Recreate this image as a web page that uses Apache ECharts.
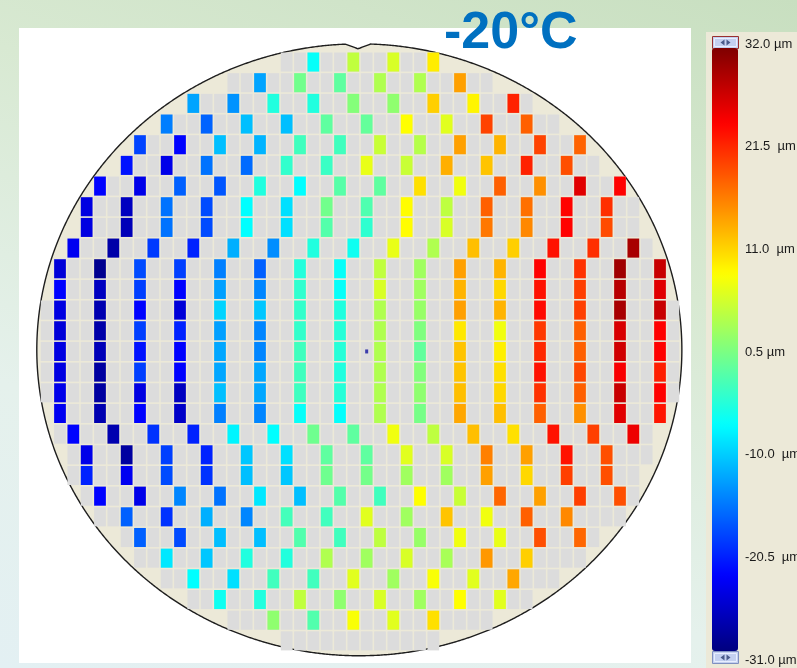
<!DOCTYPE html>
<html><head><meta charset="utf-8">
<script src="https://cdn.jsdelivr.net/npm/echarts@6/dist/echarts.min.js"></script>
<style>
html,body{margin:0;padding:0;width:797px;height:668px;overflow:hidden;}
body{background:linear-gradient(200deg,#C8DFC0 0%,#D8E9D2 35%,#E5F1EC 70%,#E3F0F3 100%);position:relative;}
#panel{position:absolute;left:19px;top:28px;width:672px;height:635px;background:#FFFFFF;}
#legendPanel{position:absolute;left:706px;top:32px;width:91px;height:636px;background:#ECE9D8;}
#chart{position:absolute;left:0;top:0;width:797px;height:668px;}
</style></head><body>
<div id="panel"></div><div id="legendPanel"></div>
<div id="chart"></div>
<script>
// ---------------- data ----------------
// wafer extent: first / last die column of each row (rows 0..28, top to bottom)
const rowStartCol = [18,14,11,9,7,6,4,3,3,2,1,1,0,0,0,0,0,1,1,2,2,3,4,6,7,9,11,14,18];
const rowEndCol   = [29,33,36,38,40,41,43,44,44,45,46,46,47,47,47,47,47,46,45,45,44,44,43,41,40,38,36,33,29];
// first measured column of each row; measured dies repeat every 3 columns
const measuredStartCol = [20,16,11,9,7,6,4,3,3,2,1,1,1,1,1,1,1,1,2,3,3,4,6,7,9,11,13,17,null];
const MEASURED_STEP = 3;
// measured values (µm) per row
const row00 = [-7, 4.5, 6, 9.5];
const row01 = [-13, -0.3, -1.5, 3.5, 3.5, 14.2];
const row02 = [-13, -14, -5.4, -5.4, 0.8, 1.5, 11.3, 9, 22];
const row03 = [-15.3, -17, -11.3, -11.3, -1.5, -1.2, 8.4, 6.5, 20, 18.2];
const row04 = [-19, -23, -11.3, -12, -3.4, -3.4, 5, 3.8, 14.2, 13, 20, 18];
const row05 = [-22, -24.5, -16, -16.5, -4.3, -3.8, 7, 5, 13.3, 12, 22, 19.2];
const row06 = [-23, -24.5, -17.2, -17.8, -5.4, -7.4, -2, -1.5, 10.3, 7.5, 18.2, 15.2, 26, 24];
const row07 = [-25, -27, -16, -18.5, -7.4, -9.3, -0.3, -2.5, 8.5, 4.4, 18.2, 17.2, 24, 21.2];
const row08 = [-25, -27.5, -16, -18.5, -7.4, -9.3, -2.2, -4.5, 8.5, 6, 16.7, 15.7, 24, 19.5];
const row09 = [-24, -28.5, -19.5, -21, -12.3, -14.3, -5.4, -6.5, 7, 3.5, 12.3, 11.3, 23, 21.2, 29.5];
const row10 = [-25.5, -30, -18.5, -19.2, -15.2, -17.2, -5.2, -7, 4.5, 2.5, 14.2, 13, 24, 21, 30, 27.5];
const row11 = [-23, -27, -19.2, -23, -13.2, -14.8, -4.4, -7, 6, 2.5, 13, 10.8, 23, 20.2, 28.5, 26];
const row12 = [-25, -28, -23, -25.5, -10, -10.8, -4.2, -5.4, 3.5, 2, 14.2, 13, 23.5, 20.2, 29.5, 27.5];
const row13 = [-25.5, -28.5, -19.2, -21, -13.2, -14.8, -4.2, -5, 3.5, 0.5, 9.8, 7.5, 20.6, 18.2, 26.5, 24];
const row14 = [-25, -27.5, -22, -23, -12.8, -14.8, -3.4, -5, 3.5, -1.3, 12, 9.3, 21.6, 18.2, 27, 24];
const row15 = [-25, -29, -19.2, -23, -12.8, -12.8, -3.4, -5.4, 3.5, 0.7, 12, 10.3, 23, 19.7, 24.5, 22.2];
const row16 = [-24.5, -29, -25, -27, -11.3, -12.8, -3.5, -5, 3.5, 1.5, 12.3, 10.8, 21, 18.2, 27.5, 24];
const row17 = [-24, -28, -23, -26.5, -15.2, -14.8, -7, -7.2, 3.5, 0, 13.8, 12.3, 18.2, 15.2, 26, 22.8];
const row18 = [-23, -28, -20, -21, -8, -7.4, -0.5, -1.5, 7.5, 4.4, 12.3, 10.3, 23, 20.2, 25.2];
const row19 = [-24.5, -29, -19.2, -21, -10.8, -9.3, -1.5, -1.5, 6.5, 6, 16.2, 14.2, 23, 19.2];
const row20 = [-21, -24, -18.5, -20, -11.3, -10.8, -0.5, -0.2, 2.5, 2.5, 14.2, 10.8, 20.2, 19.2];
const row21 = [-23, -24.5, -14.8, -16, -8.8, -11.3, -2.2, -3.4, 8.4, 5, 17.8, 14.2, 20.2, 19.2];
const row22 = [-17.2, -20, -12.3, -14.8, -3.2, -3.4, 6.5, 2.5, 12, 7.5, 18.2, 15.7];
const row23 = [-17.2, -18.5, -11.3, -11.3, -2.3, -3.4, 4.4, 2, 7.5, 7, 19.2, 17.8];
const row24 = [-8.8, -10.8, -5.4, -5.3, 3.5, 2.5, 6, 3, 14.7, 11.3];
const row25 = [-7.4, -9.3, -3.4, -3.4, 6.5, 2.5, 8, 6.5, 13.8];
const row26 = [-6.5, -5.4, 4.5, 1.5, 6, 2.5, 8.4, 6.5];
const row27 = [1.5, -2.3, 8, 6.5, 10.3];
const row28 = [];
const measuredRows = [row00,row01,row02,row03,row04,row05,row06,row07,row08,row09,row10,row11,row12,row13,row14,
  row15,row16,row17,row18,row19,row20,row21,row22,row23,row24,row25,row26,row27,row28];
const centerMark = [[24, 14]];
const scaleMin = -31, scaleMax = 32;
const legendTickLabels = ['32.0 µm','21.5  µm','11.0  µm','0.5 µm','-10.0  µm','-20.5  µm','-31.0 µm'];
const titleText = '-20°C';

// ---------------- layout / style ----------------
const WAFER = {cx: 23.45, cy: 13.92, rx: 24.19, ry: 14.8, notchX: 23.35, notchHalf: 0.95, notchDepth: 0.24};
const JET = ['#00007F','#0000FF','#007FFF','#00FFFF','#7FFF7F','#FFFF00','#FF7F00','#FF0000','#7F0000'];

const grayCells = [];
const measuredCells = [];
for (let r = 0; r < rowStartCol.length; r++) {
  for (let c = rowStartCol[r]; c <= rowEndCol[r]; c++) grayCells.push([c, r]);
  const vals = measuredRows[r];
  for (let i = 0; i < vals.length; i++) {
    measuredCells.push([measuredStartCol[r] + i * MEASURED_STEP, r, vals[i]]);
  }
}

function cellRender(fillFn) {
  return function (params, api) {
    const c = api.value(0), r = api.value(1);
    const p0 = api.coord([c - 0.5, r - 0.5]);
    const p1 = api.coord([c + 0.5, r + 0.5]);
    const ins = 0.8;
    return {type: 'rect',
      shape: {x: p0[0] + ins, y: p0[1] + ins, width: p1[0] - p0[0] - 2 * ins, height: p1[1] - p0[1] - 2 * ins},
      style: {fill: fillFn(api)}};
  };
}

function waferRender(params, api) {
  const pts = [];
  const N = 1440;
  for (let i = 0; i < N; i++) {
    const t = i / N * 2 * Math.PI;
    const x = WAFER.cx + WAFER.rx * Math.sin(t);
    let y = WAFER.cy - WAFER.ry * Math.cos(t);
    const dx = Math.abs(x - WAFER.notchX);
    if (y < WAFER.cy && dx < WAFER.notchHalf) y += WAFER.notchDepth * (1 - dx / WAFER.notchHalf);
    pts.push(api.coord([x, y]));
  }
  return {type: 'polygon', shape: {points: pts},
    style: {fill: '#ECE9D8', stroke: '#1E1E1E', lineWidth: 1.4}};
}

function buttonGraphic(top, stroke) {
  return {type: 'group', left: 712, top: top, children: [
    {type: 'rect', shape: {x: 0, y: 0, width: 26, height: 12}, style: {fill: '#C4D0F0', stroke: stroke, lineWidth: 1}},
    {type: 'rect', shape: {x: 2, y: 2, width: 22, height: 8}, style: {fill: '#C4D0F0', stroke: '#E8EEFF', lineWidth: 1}},
    {type: 'polygon', shape: {points: [[8, 6], [12, 3], [12, 9]]}, style: {fill: '#4A5A8A'}},
    {type: 'polygon', shape: {points: [[18, 6], [14, 3], [14, 9]]}, style: {fill: '#4A5A8A'}}
  ]};
}

const chart = echarts.init(document.getElementById('chart'), null, {renderer: 'canvas'});
chart.setOption({
  animation: false,
  backgroundColor: 'transparent',
  title: {text: titleText, left: 439, top: 3,
    textStyle: {fontFamily: 'Liberation Sans', fontWeight: 'bold', fontSize: 52, color: '#0070C0'}},
  grid: [
    {left: 40, top: 51.7, width: 640, height: 599.5, outerBoundsMode: 'none', containLabel: false},
    {left: 712, top: 44, width: 26, height: 616, outerBoundsMode: 'none', containLabel: false}
  ],
  xAxis: [
    {gridIndex: 0, type: 'value', min: -0.5, max: 47.5, show: false},
    {gridIndex: 1, type: 'value', min: 0, max: 1, show: false}
  ],
  yAxis: [
    {gridIndex: 0, type: 'value', min: -0.5, max: 28.5, inverse: true, show: false},
    {gridIndex: 1, type: 'category', data: legendTickLabels, inverse: true, boundaryGap: false, position: 'right',
      axisLine: {show: false}, axisTick: {show: false}, splitLine: {show: false},
      axisLabel: {margin: 7, color: '#1A1A1A', fontFamily: 'Liberation Sans', fontSize: 13, interval: 0}}
  ],
  visualMap: {type: 'continuous', min: scaleMin, max: scaleMax, seriesIndex: 2, dimension: 2,
    calculable: false, padding: 0, left: 712, top: 48, itemWidth: 26, itemHeight: 603,
    inRange: {color: JET}, textStyle: {color: 'transparent'}, hoverLink: false},
  graphic: [buttonGraphic(36, '#9A3030'), buttonGraphic(651, '#8090C0')],
  series: [
    {type: 'custom', xAxisIndex: 0, yAxisIndex: 0, clip: false, silent: true, z: 1,
      data: [[WAFER.cx, WAFER.cy]], encode: {x: 0, y: 1}, renderItem: waferRender},
    {type: 'custom', xAxisIndex: 0, yAxisIndex: 0, clip: false, silent: true, z: 2,
      data: grayCells, encode: {x: 0, y: 1}, renderItem: cellRender(() => '#DCDCDC')},
    {type: 'custom', xAxisIndex: 0, yAxisIndex: 0, clip: false, silent: true, z: 3,
      data: measuredCells, encode: {x: 0, y: 1}, renderItem: cellRender(api => api.visual('color'))},
    {type: 'scatter', xAxisIndex: 0, yAxisIndex: 0, z: 4, silent: true, symbol: 'rect', symbolSize: [3, 4],
      itemStyle: {color: '#1414A0'}, data: centerMark},
    {type: 'line', xAxisIndex: 1, yAxisIndex: 1, data: [], silent: true}
  ]
});
</script>
</body></html>
